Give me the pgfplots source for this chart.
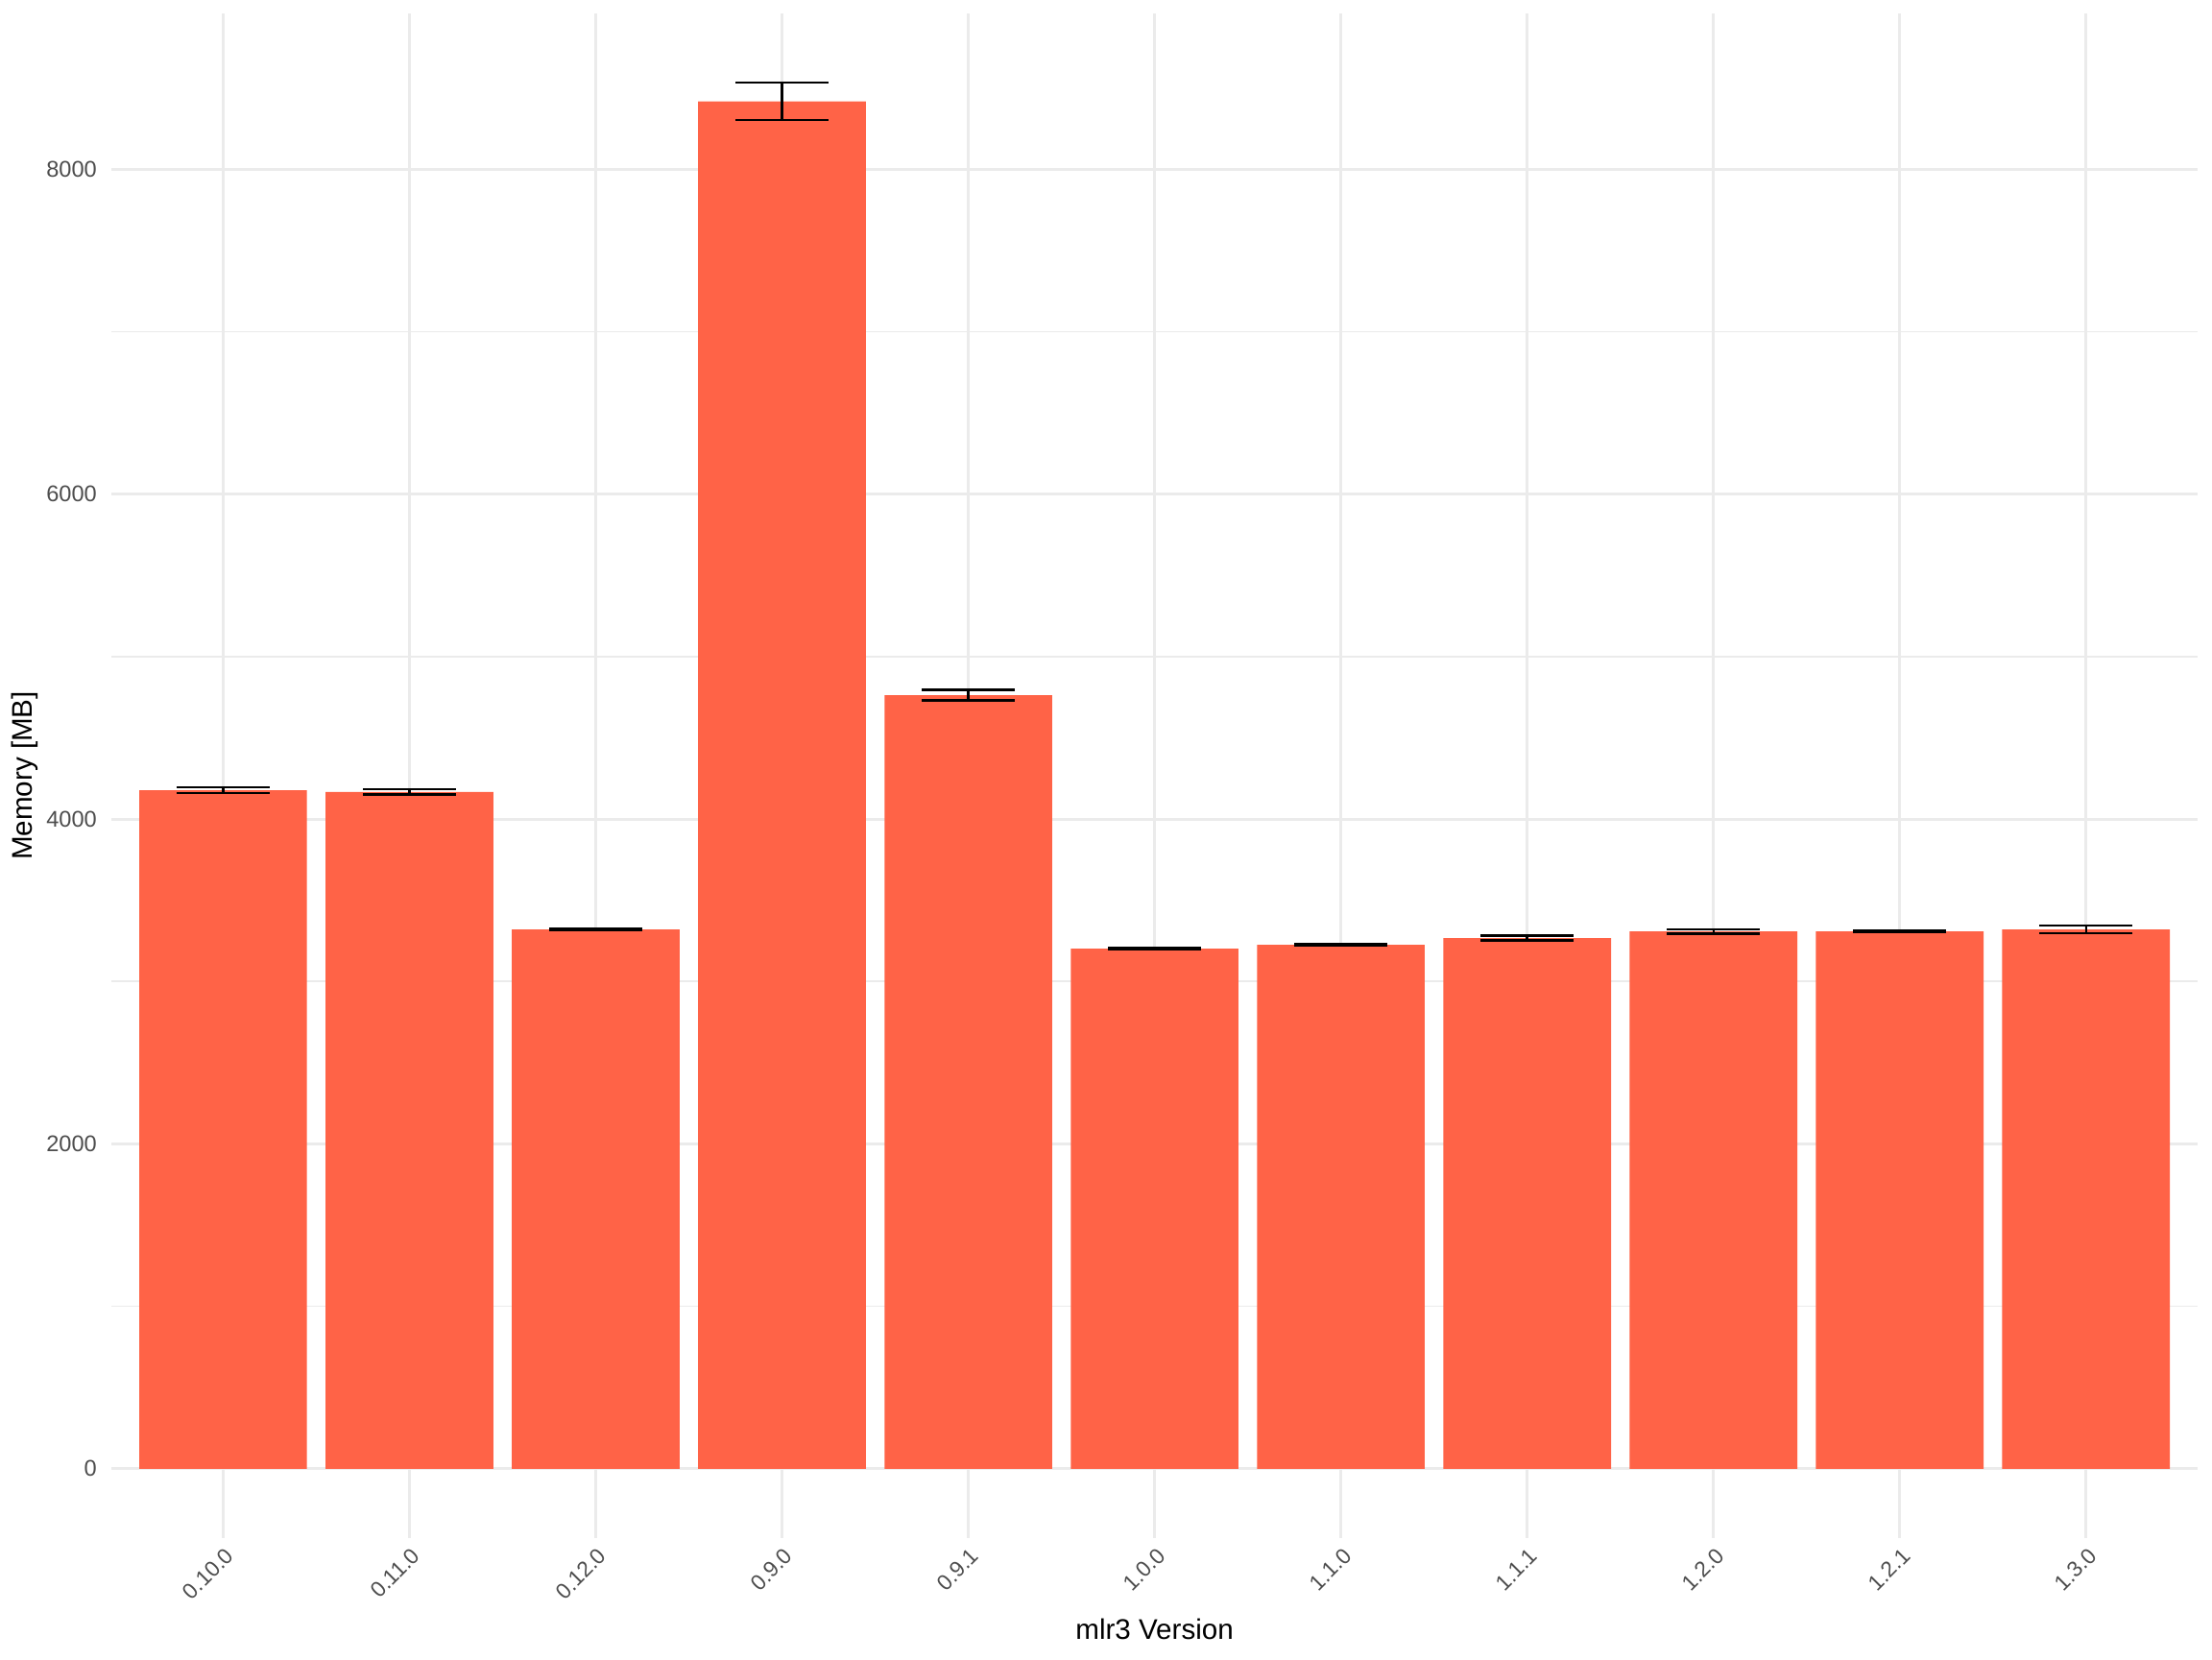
\documentclass[border=0pt]{standalone}
\usepackage{pgfplots}
\pgfplotsset{compat=1.18}
\usepackage{pgfplotstable}
\usepackage{fontspec}
\setmainfont{Liberation Sans}
\definecolor{barcol}{HTML}{FF6347}
\definecolor{gridmaj}{HTML}{EBEBEB}
\definecolor{tickcol}{HTML}{4D4D4D}
\pgfplotstableread{
x y e
0 4177 17
1 4166 16
2 3320 3
3 8417 115
4 4762 32
5 3202 3
6 3225 3
7 3267 15
8 3308 14
9 3308 3
10 3320 23
}\memdata
\begin{document}
\begin{tikzpicture}
\path[use as bounding box] (0,0) rectangle (576pt,432pt);
\begin{axis}[
  at={(29pt,31.5pt)}, anchor=south west,
  width=543.3pt, height=397pt, scale only axis,
  xmin=-0.6, xmax=10.6, ymin=-427, ymax=8959,
  axis line style={draw=none}, tick style={draw=none},
  xtick={0,...,10},
  xticklabels={0.10.0,0.11.0,0.12.0,0.9.0,0.9.1,1.0.0,1.1.0,1.1.1,1.2.0,1.2.1,1.3.0},
  ytick={0,2000,4000,6000,8000},
  minor ytick={1000,3000,5000,7000},
  grid=both,
  major grid style={draw=gridmaj, line width=0.75pt},
  minor grid style={draw=gridmaj, line width=0.38pt},
  /pgf/number format/assume math mode=true,
  /pgf/number format/1000 sep={},
  x tick label style={rotate=45, anchor=north east, inner sep=0pt, xshift=-1.2pt, yshift=-1.6pt,
    font=\fontsize{5.7}{7}\selectfont, text=tickcol},
  y tick label style={anchor=east, inner sep=0pt, xshift=-3.6pt,
    font=\fontsize{5.9}{7}\selectfont, text=tickcol},
  xlabel={mlr3 Version}, ylabel={Memory [MB]},
  label style={font=\fontsize{7.4}{9}\selectfont, text=black},
  xlabel style={at={(axis description cs:0.5,-0.05995)}, anchor=center, inner sep=0pt},
  ylabel style={at={(axis description cs:-0.0414,0.5)}, anchor=center, inner sep=0pt},
]
\addplot[ybar, bar width=0.9, fill=barcol, draw=none,
  error bars/.cd, y dir=both, y explicit,
  error bar style={draw=black, line width=0.6pt},
  error mark options={draw=black, rotate=90, mark size=12.1pt, line width=0.6pt}]
  table[x=x, y=y, y error=e] {\memdata};
\end{axis}
\end{tikzpicture}
\end{document}
